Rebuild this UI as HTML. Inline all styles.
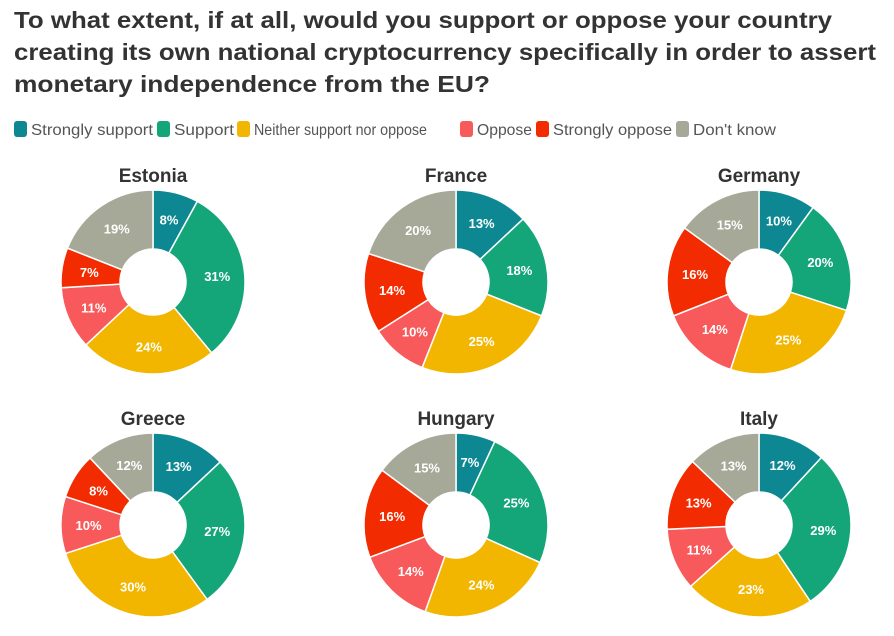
<!DOCTYPE html>
<html><head><meta charset="utf-8"><style>
body{margin:0;background:#fff;width:894px;height:636px;overflow:hidden}
svg{display:block;font-family:"Liberation Sans",sans-serif}
</style></head><body>
<svg id="chart" width="894" height="636" viewBox="0 0 894 636">
<g fill="#333" font-weight="bold" font-size="23">
<text x="14" y="28" textLength="818" lengthAdjust="spacingAndGlyphs">To what extent, if at all, would you support or oppose your country</text>
<text x="14" y="60" textLength="862" lengthAdjust="spacingAndGlyphs">creating its own national cryptocurrency specifically in order to assert</text>
<text x="14" y="92" textLength="476" lengthAdjust="spacingAndGlyphs">monetary independence from the EU?</text>
</g>
<g id="legend"></g>
<g id="donuts"></g>
</svg>
<script>
const categories=["Strongly support","Support","Neither support nor oppose","Oppose","Strongly oppose","Don't know"];
const colors=["#0d8893","#14a679","#f2b600","#f8595b","#f22c00","#a6a998"];
const countries=["Estonia","France","Germany","Greece","Hungary","Italy"];
const vEstonia=[8,31,24,11,7,19];
const vFrance=[13,18,25,10,14,20];
const vGermany=[10,20,25,14,16,15];
const vGreece=[13,27,30,10,8,12];
const vHungary=[7,25,24,14,16,15];
const vItaly=[12,29,23,11,13,13];
const values=[vEstonia,vFrance,vGermany,vGreece,vHungary,vItaly];
const NS="http://www.w3.org/2000/svg";
function mk(t,a,p){const e=document.createElementNS(NS,t);for(const k in a)e.setAttribute(k,a[k]);p.appendChild(e);return e;}
// legend
const lg=document.getElementById('legend');
const lx=[14,157,237,460,536,676],lw=[122,60,173,55,119,83];
categories.forEach((c,i)=>{
  const g=mk('g',{},lg);
  
  
  mk('rect',{x:lx[i],y:121,width:13,height:16,rx:3,fill:colors[i]},g);
  const t=mk('text',{x:lx[i]+17,y:135,'font-size':16,fill:'#555',textLength:lw[i],lengthAdjust:'spacingAndGlyphs'},g);
  t.textContent=c;
});
// donuts
const dg=document.getElementById('donuts');
const cxs=[153,456,759],cys=[282,525];
const R=92,r=33;
function pt(cx,cy,rad,a){return [cx+rad*Math.sin(a),cy-rad*Math.cos(a)];}
countries.forEach((name,ci)=>{
  const cx=cxs[ci%3],cy=cys[Math.floor(ci/3)];
  const g=mk('g',{},dg);
  
  
  const tt=mk('text',{x:cx,y:cy-100,'text-anchor':'middle','font-size':19,'font-weight':'bold',fill:'#333'},g);
  
  
  tt.textContent=name;
  const vals=values[ci];const tot=vals.reduce((a,b)=>a+b,0);
  let acc=0;
  vals.forEach((v,i)=>{
    const a0=acc/tot*2*Math.PI,a1=(acc+v)/tot*2*Math.PI;acc+=v;
    const large=(a1-a0)>Math.PI?1:0;
    const p0=pt(cx,cy,R,a0),p1=pt(cx,cy,R,a1),q1=pt(cx,cy,r,a1),q0=pt(cx,cy,r,a0);
    const p=mk('path',{d:`M${p0[0]},${p0[1]}A${R},${R} 0 ${large} 1 ${p1[0]},${p1[1]}L${q1[0]},${q1[1]}A${r},${r} 0 ${large} 0 ${q0[0]},${q0[1]}Z`,fill:colors[i],stroke:'#fff','stroke-width':1.5},g);
    
    
    const m=pt(cx,cy,(R+r)/2+2,(a0+a1)/2);
    const t=mk('text',{x:m[0],y:m[1]+5,'text-anchor':'middle','font-size':13,'font-weight':'bold',fill:'#fff'},g);
    
    
    t.textContent=v+'%';
  });
});
</script>
</body></html>
